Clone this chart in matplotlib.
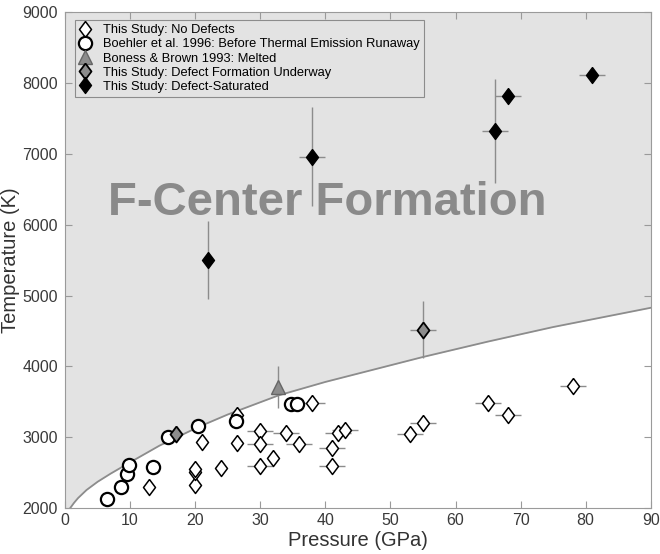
import numpy as np
import matplotlib.pyplot as plt

plt.rcParams['font.family'] = ['Liberation Sans', 'DejaVu Sans']

# boundary curve (pressure GPa, temperature K)
curve_p = [0, 0.8, 1.4, 2, 3.3, 5, 7, 10, 14.5, 20.4, 25, 32.8, 40, 46.6, 54.9, 65, 75, 90]
curve_t = [1880, 2000, 2075, 2140, 2254, 2370, 2485, 2645, 2880, 3140, 3320, 3590, 3780, 3935, 4130, 4350, 4555, 4827]

# This Study: No Defects
nodef_p = [12.9, 19.9, 19.9, 19.9, 21.0, 24.0, 26.5, 26.5, 30.0, 30.0, 30.0, 32.0,
           34.0, 36.0, 38.0, 41.0, 41.0, 42.0, 43.0, 53.0, 55.0, 65.0, 68.0, 78.0]
nodef_t = [2300, 2325, 2510, 2545, 2935, 2560, 2915, 3320, 3085, 2905, 2600, 2705,
           3065, 2905, 3480, 2845, 2595, 3055, 3100, 3045, 3205, 3485, 3310, 3725]
nodef_perr = [0, 0, 0, 0, 0, 0, 0, 0, 2, 2, 2, 0,
              2, 2, 2, 2, 2, 2, 2, 2, 2, 2, 2, 2]

# Boehler et al. 1996
boehler_p = [6.5, 8.6, 9.6, 9.8, 13.5, 15.8, 20.4, 26.3, 34.7, 35.6]
boehler_t = [2130, 2290, 2480, 2605, 2575, 3005, 3160, 3235, 3465, 3465]

# Boness & Brown 1993
boness_p = [32.8]
boness_t = [3710]
boness_terr = [300]

# This Study: Defect Formation Underway
under_p = [17.0, 55.0]
under_t = [3040, 4520]
under_perr = [0, 2]
under_terr = [0, 400]

# This Study: Defect-Saturated
sat_p = [22.0, 38.0, 66.0, 68.0, 81.0]
sat_t = [5500, 6960, 7320, 7820, 8120]
sat_perr = [0, 2, 2, 2, 2]
sat_terr = [550, 700, 730, 0, 0]

diamond = [(0, 1), (0.75, 0), (0, -1), (-0.75, 0), (0, 1)]
ebar = '#8c8c8c'

fig, ax = plt.subplots(figsize=(6.6, 5.54), dpi=100)
fig.subplots_adjust(left=0.0985, right=0.986, bottom=0.083, top=0.978)

ax.fill_between(curve_p, curve_t, 9000, color='#e3e3e3', lw=0, zorder=0)
ax.plot(curve_p, curve_t, color='#8c8c8c', lw=1.3, zorder=1)

ax.errorbar(nodef_p, nodef_t, xerr=nodef_perr, fmt='none', ecolor=ebar, elinewidth=1, zorder=2)
ax.errorbar(boness_p, boness_t, yerr=boness_terr, fmt='none', ecolor=ebar, elinewidth=1, zorder=2)
ax.errorbar(under_p, under_t, xerr=under_perr, yerr=under_terr, fmt='none', ecolor=ebar, elinewidth=1, zorder=2)
ax.errorbar(sat_p, sat_t, xerr=sat_perr, yerr=sat_terr, fmt='none', ecolor=ebar, elinewidth=1, zorder=2)

ax.plot(nodef_p, nodef_t, ls='none', marker=diamond, ms=11.5, mfc='white', mec='black', mew=1.1,
        label='This Study: No Defects', zorder=3)
ax.plot(boehler_p, boehler_t, ls='none', marker='o', ms=9.5, mfc='white', mec='black', mew=1.6,
        label='Boehler et al. 1996: Before Thermal Emission Runaway', zorder=4)
ax.plot(boness_p, boness_t, ls='none', marker='^', ms=10, mfc='#8c8c8c', mec='#666666', mew=1,
        label='Boness & Brown 1993: Melted', zorder=4)
ax.plot(under_p, under_t, ls='none', marker=diamond, ms=11.5, mfc='#8c8c8c', mec='black', mew=1.3,
        label='This Study: Defect Formation Underway', zorder=5)
ax.plot(sat_p, sat_t, ls='none', marker=diamond, ms=11.5, mfc='black', mec='black', mew=1,
        label='This Study: Defect-Saturated', zorder=5)

ax.text(40.3, 6300, 'F-Center Formation', fontsize=34, fontweight='bold', color='#8a8a8a',
        ha='center', va='center', zorder=1)

ax.set_xlim(0, 90)
ax.set_ylim(2000, 9000)
ax.set_xticks(np.arange(0, 91, 10))
ax.set_yticks(np.arange(2000, 9001, 1000))
ax.tick_params(direction='in', top=True, right=True, length=5, color='#9a9a9a',
               labelsize=11.5, labelcolor='#3a3a3a')
ax.tick_params(axis='y', pad=5)
for s in ax.spines.values():
    s.set_color('#9a9a9a')

ax.set_xlabel('Pressure (GPa)', fontsize=14.5, color='#333333', labelpad=2)
ax.set_ylabel('Temperature (K)', fontsize=14.5, color='#333333')
ax.yaxis.set_label_coords(-0.076, 0.5)

leg = ax.legend(loc='upper left', bbox_to_anchor=(0.017, 0.984), borderaxespad=0, fontsize=9.3,
                fancybox=False, edgecolor='#8c8c8c', facecolor='#e3e3e3', framealpha=1,
                handlelength=1.0, handletextpad=0.9, labelspacing=0.17, borderpad=0.3)
leg.get_frame().set_linewidth(0.8)

plt.savefig('out.png', dpi=100)
